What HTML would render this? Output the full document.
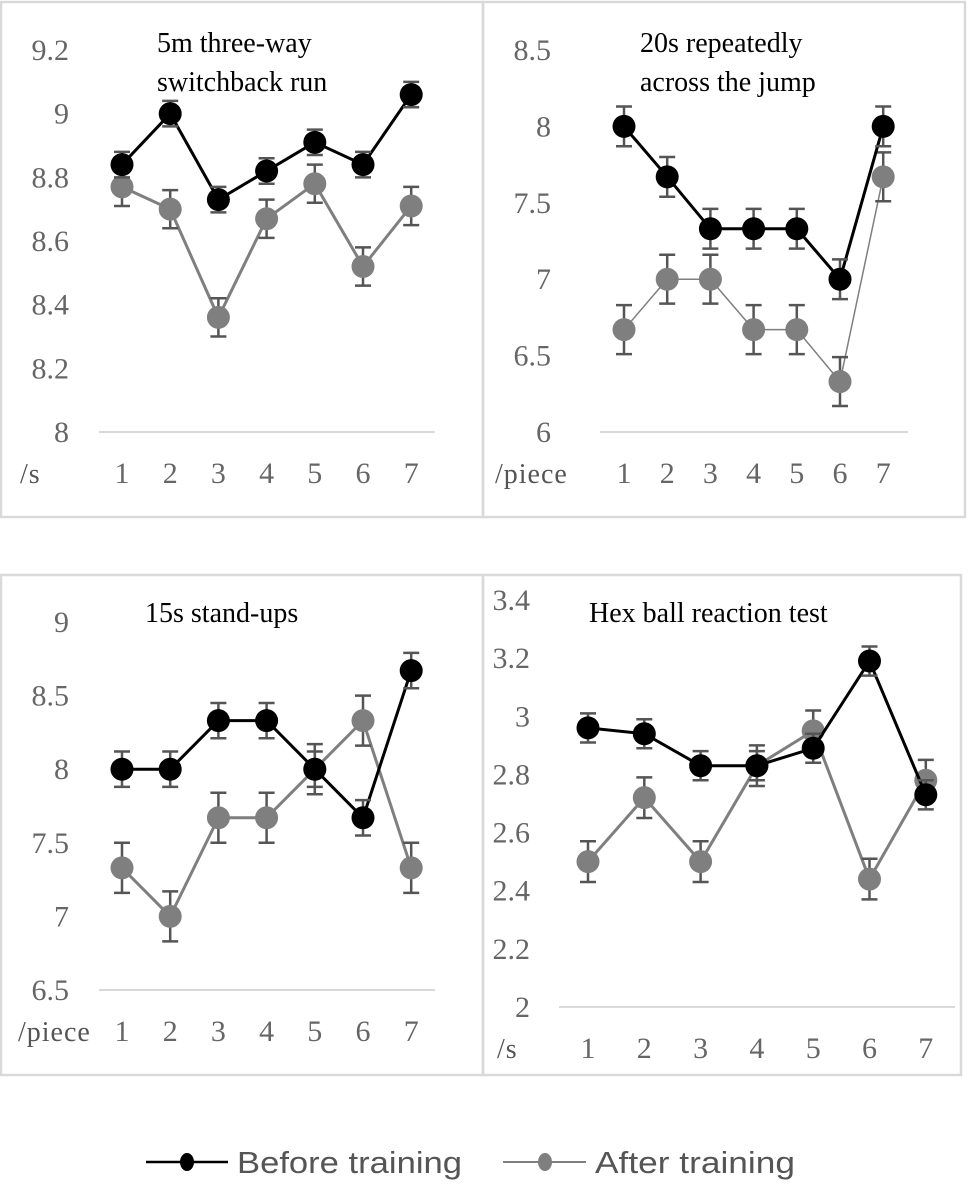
<!DOCTYPE html>
<html><head><meta charset="utf-8"><style>
body{margin:0;background:#fff}
svg{display:block}
text{font-family:"Liberation Serif",serif}
</style></head><body>
<svg id="c" width="979" height="1192" viewBox="0 0 979 1192" xmlns="http://www.w3.org/2000/svg">
<g id="legend">
 <g>
  <line x1="146" y1="1162" x2="228" y2="1162" stroke="#000" stroke-width="2.5"/>
  <ellipse cx="187" cy="1162" rx="7" ry="9" fill="#000"/>
  <text x="237" y="1173" font-size="31" fill="#555" textLength="225" lengthAdjust="spacingAndGlyphs" style="font-family:'Liberation Sans',sans-serif">Before training</text>
 </g>
 <g>
  <line x1="503" y1="1162" x2="586" y2="1162" stroke="#7f7f7f" stroke-width="2"/>
  <ellipse cx="545" cy="1162" rx="7" ry="9" fill="#7f7f7f"/>
  <text x="595" y="1173" font-size="31" fill="#555" textLength="200" lengthAdjust="spacingAndGlyphs" style="font-family:'Liberation Sans',sans-serif">After training</text>
 </g>
</g>
</svg>
<script>
const categories = ["1","2","3","4","5","6","7"];
const p1Before = [8.84, 9.0, 8.73, 8.82, 8.91, 8.84, 9.06];
const p1After = [8.77, 8.70, 8.36, 8.67, 8.78, 8.52, 8.71];
const p1ErrBefore = [0.04,0.04,0.04,0.04,0.04,0.04,0.04];
const p1ErrAfter = [0.06,0.06,0.06,0.06,0.06,0.06,0.06];
const p1Ticks = ["8","8.2","8.4","8.6","8.8","9","9.2"];
const p2Before = [8.0, 7.67, 7.33, 7.33, 7.33, 7.0, 8.0];
const p2After = [6.67, 7.0, 7.0, 6.67, 6.67, 6.33, 7.67];
const p2ErrBefore = [0.13,0.13,0.13,0.13,0.13,0.13,0.13];
const p2ErrAfter = [0.16,0.16,0.16,0.16,0.16,0.16,0.16];
const p2Ticks = ["6","6.5","7","7.5","8","8.5"];
const p3Before = [8.0, 8.0, 8.33, 8.33, 8.0, 7.67, 8.67];
const p3After = [7.33, 7.0, 7.67, 7.67, 8.0, 8.33, 7.33];
const p3ErrBefore = [0.12,0.12,0.12,0.12,0.12,0.12,0.12];
const p3ErrAfter = [0.17,0.17,0.17,0.17,0.17,0.17,0.17];
const p3Ticks = ["6.5","7","7.5","8","8.5","9"];
const p4Before = [2.96, 2.94, 2.83, 2.83, 2.89, 3.19, 2.73];
const p4After = [2.50, 2.72, 2.50, 2.83, 2.95, 2.44, 2.78];
const p4ErrBefore = [0.05,0.05,0.05,0.05,0.05,0.05,0.05];
const p4ErrAfter = [0.07,0.07,0.07,0.07,0.07,0.07,0.07];
const p4Ticks = ["2","2.2","2.4","2.6","2.8","3","3.2","3.4"];

const NS="http://www.w3.org/2000/svg";
const svg=document.getElementById('c');
function mk(tag,attrs,parent){const e=document.createElementNS(NS,tag);for(const k in attrs)e.setAttribute(k,attrs[k]);parent.appendChild(e);return e;}

const panels=[
 {name:'switchback-run',frame:[1,2,482,515],yMin:8,yMax:9.2,yTop:50,yBot:432,x0:122,dx:48.2,base:[99,435],tickX:69,catY:483,unit:'/s',unitX:20,
  title:['5m three-way','switchback run'],titleX:157,titleY:[52,91],before:p1Before,after:p1After,eb:p1ErrBefore,ea:p1ErrAfter,ticks:p1Ticks,aw:3},
 {name:'repeated-jump',frame:[483,2,482,515],yMin:6,yMax:8.5,yTop:50,yBot:432,x0:624,dx:43.2,base:[600,908],tickX:551,catY:483,unit:'/piece',unitX:495,
  title:['20s repeatedly','across the jump'],titleX:640,titleY:[52,91],before:p2Before,after:p2After,eb:p2ErrBefore,ea:p2ErrAfter,ticks:p2Ticks,aw:1.5},
 {name:'stand-ups',frame:[1,575,482,500],yMin:6.5,yMax:9,yTop:622,yBot:990,x0:122,dx:48.2,base:[99,435],tickX:69,catY:1041,unit:'/piece',unitX:18,
  title:['15s stand-ups'],titleX:145,titleY:[622],before:p3Before,after:p3After,eb:p3ErrBefore,ea:p3ErrAfter,ticks:p3Ticks,aw:3},
 {name:'hex-ball',frame:[483,575,478,500],yMin:2,yMax:3.4,yTop:600,yBot:1007,x0:588,dx:56.3,base:[559,955],tickX:530,catY:1058,unit:'/s',unitX:497,
  title:['Hex ball reaction test'],titleX:589,titleY:[622],before:p4Before,after:p4After,eb:p4ErrBefore,ea:p4ErrAfter,ticks:p4Ticks,aw:3}
];

panels.forEach(p=>{
 const g=mk('g',{},svg);
 
 
 const fr=mk('rect',{x:p.frame[0],y:p.frame[1],width:p.frame[2],height:p.frame[3],fill:'none',stroke:'#d9d9d9','stroke-width':2.5},g);
 
 
 const ys=v=>p.yBot-(v-p.yMin)/(p.yMax-p.yMin)*(p.yBot-p.yTop);
 const xs=i=>p.x0+i*p.dx;
 const bl=mk('line',{x1:p.base[0],x2:p.base[1],y1:p.yBot,y2:p.yBot,stroke:'#d9d9d9','stroke-width':2},g);
 
 
 p.ticks.forEach(t=>{
  const e=mk('text',{x:p.tickX,y:ys(parseFloat(t))+10,'text-anchor':'end','font-size':30,fill:'#666'},g);
  e.textContent=t;
  
  
 });
 categories.forEach((c,i)=>{
  const e=mk('text',{x:xs(i),y:p.catY,'text-anchor':'middle','font-size':30,fill:'#666'},g);
  e.textContent=c;
  
  
 });
 const u=mk('text',{x:p.unitX,y:p.catY,'font-size':28,fill:'#555','letter-spacing':'1'},g);
 u.textContent=p.unit;
 
 
 p.title.forEach((t,k)=>{
  const e=mk('text',{x:p.titleX,y:p.titleY[k],'font-size':28,fill:'#000'},g);
  e.textContent=t;
  
  
 });
 [[p.after,p.ea,'#7f7f7f',p.aw,'series-after'],[p.before,p.eb,'#000',3,'series-before']].forEach(([vals,errs,col,w,nm])=>{
  const sg=mk('g',{},g);
  
  
  const pl=mk('polyline',{points:vals.map((v,i)=>xs(i)+','+ys(v)).join(' '),fill:'none',stroke:col,'stroke-width':w},sg);
  
  
  vals.forEach((v,i)=>{
   const x=xs(i),yh=ys(v+errs[i]),yl=ys(v-errs[i]);
   const eg=mk('path',{d:`M${x},${yh}V${yl}M${x-8},${yh}H${x+8}M${x-8},${yl}H${x+8}`,stroke:'#555','stroke-width':2.5,fill:'none'},sg);
   
   
  });
  vals.forEach((v,i)=>{
   const c=mk('circle',{cx:xs(i),cy:ys(v),r:11.5,fill:col},sg);
   
   
  });
 });
});
</script>
</body></html>
